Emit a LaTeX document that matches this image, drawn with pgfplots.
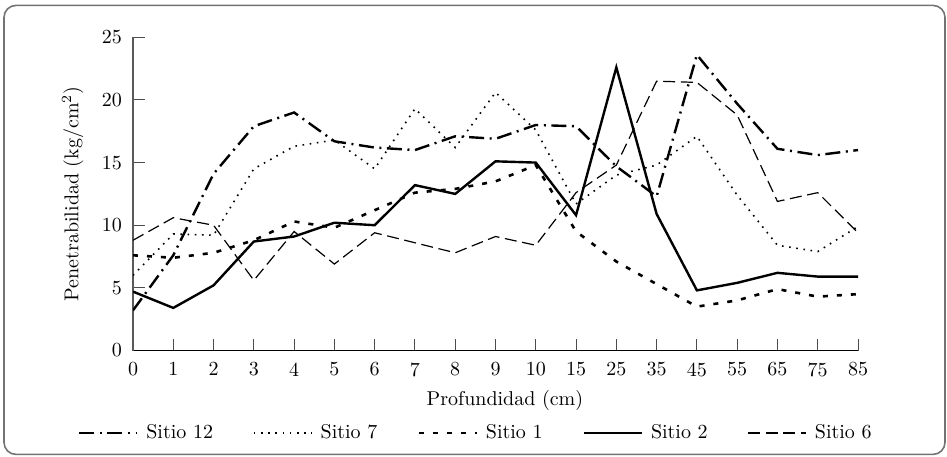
\documentclass[border=0pt]{standalone}
\usepackage{pgfplots}
\pgfplotsset{compat=1.18}
\usepackage{pgfplotstable}

\pgfplotstableread{
i  S12  S7   S1   S2   S6
0  3.2  6.0  7.6  4.7  8.8
1  7.6  9.3  7.4  3.4  10.6
2  14.1 9.2  7.8  5.2  10.0
3  17.9 14.5 8.8  8.7  5.6
4  19.0 16.3 10.3 9.1  9.5
5  16.7 16.8 9.8  10.2 6.9
6  16.2 14.5 11.2 10.0 9.4
7  16.0 19.3 12.6 13.2 8.6
8  17.1 16.2 12.9 12.5 7.8
9  16.9 20.6 13.5 15.1 9.1
10 18.0 17.6 14.8 15.0 8.4
11 17.9 11.7 9.5  10.8 12.6
12 14.7 14.0 7.1  22.6 14.8
13 12.3 14.8 5.3  10.9 21.5
14 23.6 17.1 3.5  4.8  21.4
15 19.7 12.4 4.0  5.4  18.8
16 16.1 8.4  4.9  6.2  11.9
17 15.6 7.9  4.3  5.9  12.6
18 16.0 9.9  4.5  5.9  9.4
}\data

\begin{document}
\begin{tikzpicture}[x=1pt,y=1pt]
\useasboundingbox (0,0) rectangle (473.5,228);
\draw[black!55, line width=0.8pt, rounded corners=6pt] (2,0.8) rectangle (472.5,225.3);
\begin{axis}[
  at={(66.5pt,52.75pt)}, anchor=south west,
  scale only axis, width=362.5pt, height=156.6pt,
  xmin=0, xmax=18, ymin=0, ymax=25,
  axis x line=bottom, axis y line=left,
  axis line style={-},
  x axis line style={black, line width=0.6pt},
  y axis line style={black!65, line width=0.6pt},
  xtick={0,...,18},
  xticklabels={0,1,2,3,4,5,6,7,8,9,10,15,25,35,45,55,65,75,85},
  ytick={0,5,10,15,20,25},
  tick align=inside,
  major tick length=6pt,
  tick style={black!70, line width=0.5pt},
  xticklabel style={yshift=-2.5pt},
  yticklabel style={xshift=-2pt},
  xlabel={Profundidad (cm)},
  ylabel={Penetrabilidad (kg/cm\textsuperscript{2})},
  xlabel style={at={(axis description cs:0.513,0)}, anchor=center, yshift=-25pt},
  ylabel style={at={(axis description cs:-0.0834,0.5)}, anchor=center},
  legend columns=5,
  legend image code/.code={\draw[#1] (0pt,0pt) -- (29pt,0pt);},
  legend style={draw=none, fill=none, at={(axis description cs:-0.0759,-0.2636)}, anchor=west,
    inner sep=0pt, outer sep=0pt, font=\normalsize,
    /tikz/every odd column/.append style={column sep=2pt},
    /tikz/every even column/.append style={column sep=18pt}},
]
\addplot[black, line width=1.2pt, dash pattern=on 7.5pt off 2.8pt on 1pt off 2.8pt] table[x=i, y=S12] {\data};
\addlegendentry{Sitio 12\hspace{2pt}}
\addplot[black, line width=0.8pt, dash pattern=on 0.8pt off 2.8pt] table[x=i, y=S7] {\data};
\addlegendentry{Sitio 7}
\addplot[black, line width=1.3pt, dash pattern=on 2.5pt off 4.5pt] table[x=i, y=S1] {\data};
\addlegendentry{Sitio 1\hspace{5.5pt}}
\addplot[black, line width=1.2pt] table[x=i, y=S2] {\data};
\addlegendentry{Sitio 2}
\addplot[black, line width=0.6pt, dash pattern=on 6pt off 2.8pt] table[x=i, y=S6] {\data};
\addlegendentry{Sitio 6}
\end{axis}
\end{tikzpicture}
\end{document}
